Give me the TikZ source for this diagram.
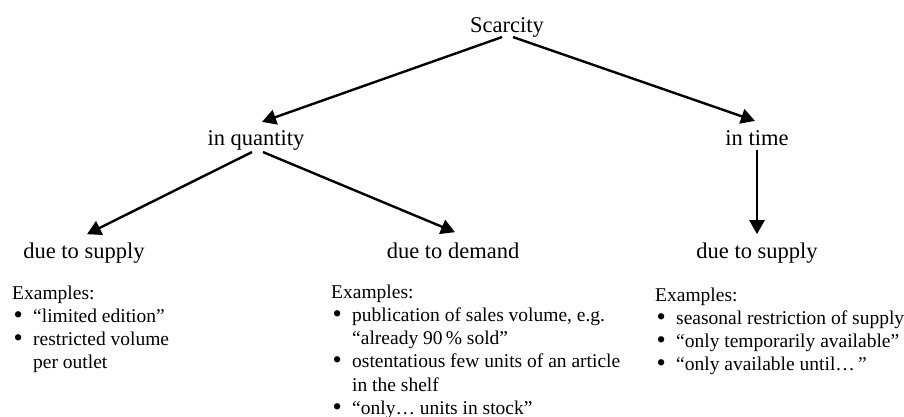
\documentclass[tikz,border=0pt]{standalone}
\usepackage{fontspec}
\setmainfont{Liberation Serif}
\usepackage{xcolor}
\usetikzlibrary{arrows.meta, positioning, calc}
\tikzset{
    topic/.style={
        font=\fontsize{22.5}{27}\selectfont,
        inner sep=0pt,
        anchor=base,
    },
    cause/.style={
        font=\fontsize{22.5}{27}\selectfont,
        inner sep=0pt,
        anchor=base,
    },
    examples/.style={
        font=\fontsize{19.5}{23.3}\selectfont,
        inner sep=0pt,
        anchor=base west,
        align=left,
    },
    link/.style={
        ->,
        line width=2.4pt,
    },
}
\newcommand{\exlist}[1]{\begin{tabular}[t]{@{}p{21pt}@{}l@{}}\multicolumn{2}{@{}l@{}}{Examples:}\\#1\end{tabular}}
\newcommand{\bul}{\hspace{1.5pt}\smash{\raisebox{-1pt}{\scalebox{1.35}{\textbullet}}}}

\begin{document}
\begin{tikzpicture}[x=1pt, y=1pt, >={Triangle[length=14pt,width=15pt]}]
      \useasboundingbox (0,0) rectangle (904,-416);

      \node [topic] (sc) at (507,-32) {Scarcity};
      \node [topic] (qt) at (256,-145) {in quantity};
      \node [topic] (tm) at (757,-145) {in time};

      \node [cause] (supA) at (84,-258) {due to supply};
      \node [cause] (dem) at (453,-258) {due to demand};
      \node [cause] (supB) at (757,-258) {due to supply};

      \node [examples] (exA) at (12,-299) {\exlist{
        \bul & ``limited edition''\\
        \bul & restricted volume\\
             & per outlet}};
      \node [examples] (exD) at (331,-298) {\exlist{
        \bul & publication of sales volume, e.g.\\
             & ``already 90\,\% sold''\\
        \bul & ostentatious few units of an article\\
             & in the shelf\\
        \bul & ``only\ldots\ units in stock''}};
      \node [examples] (exB) at (655,-301) {\exlist{
        \bul & seasonal restriction of supply\\
        \bul & ``only temporarily available''\\
        \bul & ``only available until\ldots\,''}};

      \draw[link] ([xshift=-5pt]sc.south) -- ([shift={(6pt,8pt)}]qt.north);
      \draw[link] ([xshift=6pt]sc.south) -- ([shift={(-2pt,9pt)}]tm.north);
      \draw[link] ([shift={(-4pt,-2pt)}]qt.south) -- ([shift={(3pt,8pt)}]supA.north);
      \draw[link] ([shift={(7pt,-2pt)}]qt.south) -- ([shift={(2pt,10pt)}]dem.north);
      \draw[link] ([yshift=-5pt]tm.south) -- ([yshift=8pt]supB.north);
    \end{tikzpicture}
\end{document}
